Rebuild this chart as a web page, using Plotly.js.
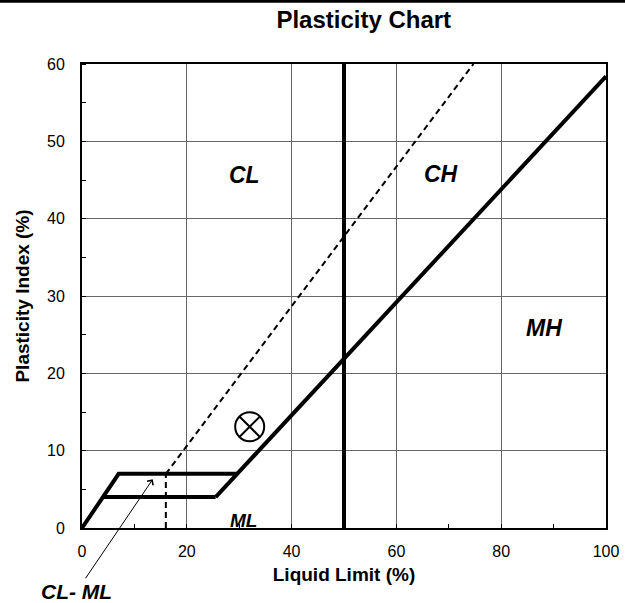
<!DOCTYPE html>
<html>
<head>
<meta charset="utf-8">
<script src="https://cdn.plot.ly/plotly-3.0.1.min.js"></script>
<style>
html,body{margin:0;padding:0;background:#fff;}
#chart{width:625px;height:603px;}
</style>
</head>
<body>
<div id="chart"></div>
<script>
// ---- data ----
const zoneX = [0, 7, 29.6, null, 4, 25.5];      // CL-ML band outline (LL %)
const zoneY = [0, 7, 7, null, 4, 4];             // PI %
const aLineX = [25.5, 100];
const aLineY = [4, 58.4];
const llDivX = [50, 50];
const llDivY = [0, 60];
const uLineX = [16, 16, null, 16, 74.7];
const uLineY = [0, 7, null, 7, 60];
const sampleX = [32];
const sampleY = [13.1];
const zoneLabels = ['CL', 'CH', 'MH', 'ML'];
const zoneLabelX = [31, 68.5, 88.2, 30.8];
const zoneLabelY = [45.6, 45.8, 25.8, 1.0];
const zoneLabelSize = [23, 23, 23, 19];
const xTicks = [0, 20, 40, 60, 80, 100];
const yTicks = [0, 10, 20, 30, 40, 50, 60];

const FONT = 'Liberation Sans, Arial, sans-serif';

const thick = {color: '#000', width: 4};
const traces = [
  {x: zoneX, y: zoneY, mode: 'lines', line: thick, hoverinfo: 'skip'},
  {x: aLineX, y: aLineY, mode: 'lines', line: thick, hoverinfo: 'skip'},
  {x: llDivX, y: llDivY, mode: 'lines', line: thick, hoverinfo: 'skip'},
  {x: uLineX, y: uLineY, mode: 'lines', line: {color: '#000', width: 2, dash: '6px,4px'}, hoverinfo: 'skip'},
  {x: sampleX, y: sampleY, mode: 'markers', cliponaxis: false,
   marker: {symbol: 'circle-x-open', size: 29, color: '#000', line: {color: '#000', width: 2}}}
];

const annotations = zoneLabels.map((t, i) => ({
  x: zoneLabelX[i], y: zoneLabelY[i], xref: 'x', yref: 'y', text: t, showarrow: false,
  font: {family: FONT, size: zoneLabelSize[i], color: '#000', weight: 'bold', style: 'italic'}
}));
annotations.push({
  x: 13.5, y: 6.3, xref: 'x', yref: 'y', text: 'CL- ML', showarrow: true,
  ax: -76, ay: 112, arrowhead: 4, arrowsize: 1.4, arrowwidth: 1, arrowcolor: '#000',
  font: {family: FONT, size: 21, color: '#000', weight: 'bold', style: 'italic'}
});

const layout = {
  width: 625, height: 603,
  margin: {l: 82, r: 19, t: 64, b: 75},
  paper_bgcolor: '#fff', plot_bgcolor: '#fff',
  showlegend: false,
  font: {family: FONT, color: '#000'},
  title: {text: 'Plasticity Chart', x: 0.582, xanchor: 'center', xref: 'container',
          y: 0.968, yanchor: 'middle', yref: 'container',
          font: {family: FONT, size: 24, weight: 'bold', color: '#000'}},
  xaxis: {
    range: [0, 100], tickvals: xTicks, ticktext: xTicks.map(String),
    showgrid: true, gridcolor: '#666', gridwidth: 1,
    showline: true, linecolor: '#000', linewidth: 2, mirror: true,
    ticks: '', zeroline: false,
    minor: {dtick: 10, tick0: 0, ticks: 'inside', ticklen: 4, tickcolor: '#000', showgrid: false},
    tickfont: {family: FONT, size: 16, color: '#000'},
    ticklabelstandoff: 8,
    title: {text: 'Liquid Limit (%)', standoff: 8,
            font: {family: FONT, size: 19, weight: 'bold', color: '#000'}}
  },
  yaxis: {
    range: [0, 60], tickvals: yTicks, ticktext: yTicks.map(String),
    showgrid: true, gridcolor: '#666', gridwidth: 1,
    showline: true, linecolor: '#000', linewidth: 2, mirror: true,
    ticks: '', zeroline: false,
    minor: {dtick: 5, tick0: 0, ticks: 'inside', ticklen: 4, tickcolor: '#000', showgrid: false},
    tickfont: {family: FONT, size: 16, color: '#000'},
    ticklabelstandoff: 12,
    title: {text: 'Plasticity Index (%)', standoff: 12,
            font: {family: FONT, size: 19, weight: 'bold', color: '#000'}}
  },
  shapes: [
    {type: 'line', xref: 'paper', yref: 'paper', x0: -0.2, x1: 1.1,
     y0: 1.135, y1: 1.135, line: {color: '#000', width: 3}}
  ],
  annotations: annotations
};

Plotly.newPlot('chart', traces, layout, {displayModeBar: false, staticPlot: true});
</script>
</body>
</html>
